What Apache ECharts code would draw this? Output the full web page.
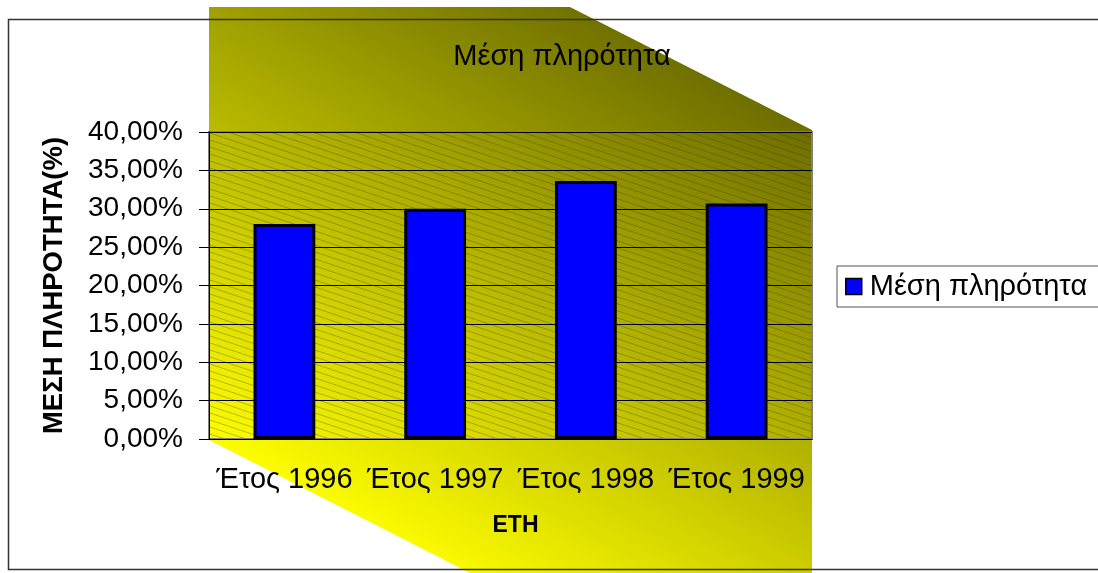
<!DOCTYPE html>
<html>
<head>
<meta charset="utf-8">
<script src="https://cdn.jsdelivr.net/npm/echarts@6/dist/echarts.min.js"></script>
<style>
  html, body { margin: 0; padding: 0; background: #fff; overflow: hidden; }
  #chart { width: 1098px; height: 573px; }
</style>
</head>
<body>
<div id="chart"></div>
<script>
var years = ['Έτος 1996', 'Έτος 1997', 'Έτος 1998', 'Έτος 1999'];
var occupancy = [28.0, 30.0, 33.6, 30.7];
var seriesName = 'Μέση πληρότητα';

// diagonal hatch for the plot area
var tile = document.createElement('canvas');
tile.width = 21;
tile.height = 7;
var ctx = tile.getContext('2d');
ctx.strokeStyle = 'rgba(50,50,0,0.3)';
ctx.lineWidth = 1;
[-7, 0, 7].forEach(function (dy) {
  ctx.beginPath();
  ctx.moveTo(-21, dy - 7);
  ctx.lineTo(42, dy + 14);
  ctx.stroke();
});

var chart = echarts.init(document.getElementById('chart'));
var font = 'Liberation Sans, Arial, sans-serif';

var option = {
  backgroundColor: '#fff',
  animation: false,
  title: {
    text: seriesName,
    left: 557,
    top: 37,
    textAlign: 'center',
    textStyle: { fontSize: 29, fontWeight: 'normal', color: '#000', fontFamily: font }
  },
  graphic: [
    {
      type: 'polygon',
      z: -10,
      shape: {
        points: [[209, 7], [570, 7], [812, 130], [812, 573], [470, 573], [209, 440]]
      },
      style: {
        fill: {
          type: 'linear', x: 0.35, y: 1, x2: 0.85, y2: 0.1,
          colorStops: [{ offset: 0, color: '#ffff00' }, { offset: 1, color: '#6b6b00' }]
        }
      }
    },
    {
      type: 'rect',
      z: 100,
      shape: { x: 8.5, y: 19.5, width: 1200, height: 550 },
      style: { fill: 'none', stroke: '#333', lineWidth: 1.5 }
    }
  ],
  legend: {
    data: [seriesName],
    left: 837,
    top: 266,
    icon: 'rect',
    itemWidth: 16,
    itemHeight: 16,
    padding: [6, 30, 6, 8],
    backgroundColor: '#fff',
    borderColor: '#555',
    borderWidth: 1,
    itemStyle: { borderColor: '#000', borderWidth: 1.5 },
    textStyle: { fontSize: 29, color: '#000', fontFamily: font, padding: [0, 0, 0, 3] }
  },
  grid: {
    left: 209,
    right: 1098 - 812,
    top: 132,
    bottom: 573 - 439,
    show: true,
    backgroundColor: { image: tile, repeat: 'repeat' },
    borderColor: '#808080',
    borderWidth: 2
  },
  xAxis: {
    type: 'category',
    data: years,
    name: 'ΕΤΗ',
    nameLocation: 'middle',
    nameGap: 75,
    nameTextStyle: { fontSize: 23, fontWeight: 'bold', color: '#000', fontFamily: font, padding: [0, 0, 0, 10] },
    axisLine: { lineStyle: { color: '#000', width: 1 } },
    axisTick: { length: 8, lineStyle: { color: '#000' } },
    axisLabel: { interval: 0, margin: 26, fontSize: 29, color: '#000', fontFamily: font }
  },
  yAxis: {
    type: 'value',
    min: 0,
    max: 40,
    interval: 5,
    name: 'ΜΕΣΗ ΠΛΗΡΟΤΗΤΑ(%)',
    nameLocation: 'middle',
    nameGap: 141,
    nameTextStyle: { fontSize: 27.5, fontWeight: 'bold', color: '#000', fontFamily: font },
    axisLine: { show: true, lineStyle: { color: '#000', width: 1 } },
    axisTick: { show: true, length: 10, lineStyle: { color: '#000' } },
    axisLabel: {
      margin: 26, fontSize: 28, color: '#000', fontFamily: font,
      formatter: function (v) { return v.toFixed(2).replace('.', ',') + '%'; }
    },
    splitLine: { lineStyle: { color: '#000', width: 1 } }
  },
  series: [
    {
      name: seriesName,
      type: 'bar',
      data: occupancy,
      barWidth: '41%',
      itemStyle: { color: '#0000ff', borderColor: '#000', borderWidth: 3 }
    }
  ]
};

chart.setOption(option);
</script>
</body>
</html>
